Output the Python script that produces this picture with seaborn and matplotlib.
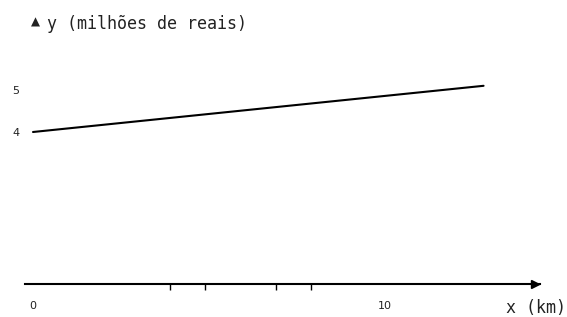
import matplotlib
matplotlib.use("Agg")
import matplotlib.pyplot as plt
import seaborn as sns
import pandas as pd

# Data
x_km = [0, 12.8]
y_milhoes = [4, 5.1]
major_ticks = [0, 10]
major_labels = ["0", "10"]
minor_marks = [3.9, 4.9, 6.9, 7.9]
y_ticks = [4, 5]
y_labels = ["4", "5"]
title_marker = "▲"
title_text = "y (milhões de reais)"
xlabel_text = "x (km)"

sns.set_theme(style="white")
plt.rcParams['font.family'] = ['DejaVu Sans']

W, H = 567, 317
fig = plt.figure(figsize=(W / 100, H / 100), dpi=100)
left_px, right_px, top_px, axis_px = 25, 540, 10, 284
ax = fig.add_axes([left_px / W, (H - axis_px) / H,
                   (right_px - left_px) / W, (axis_px - top_px) / H])

df = pd.DataFrame({"x": x_km, "y": y_milhoes})
sns.lineplot(data=df, x="x", y="y", ax=ax, color="black", linewidth=1.5)

# pixel mapping: x px = 33 + 35.2*x ; y px = 132 - 42*(y-4)
ax.set_xlim((left_px - 33) / 35.2, (right_px - 33) / 35.2)
ax.set_ylim(4 - (axis_px - 132) / 42, 4 + (132 - top_px) / 42)

for s in ["left", "right", "top"]:
    ax.spines[s].set_visible(False)
ax.spines["bottom"].set_color("black")
ax.spines["bottom"].set_linewidth(1.5)
ax.plot([1.0 - 5 / (right_px - left_px)], [0.0], marker=">", markersize=6,
        color="black", transform=ax.transAxes, clip_on=False)

ax.set_xticks(major_ticks, major_labels)
ax.set_xticks(minor_marks, minor=True)
ax.tick_params(axis="x", which="major", length=0, pad=12.5, labelsize=8, colors="#222222")
ax.tick_params(axis="x", which="minor", bottom=True, length=4.5, width=1.0,
               direction="out", color="black")
ax.set_yticks(y_ticks, y_labels)
ax.tick_params(axis="y", length=0, pad=4, labelsize=8, colors="#222222")
ax.set_xlabel("")
ax.set_ylabel("")

fig.text(35 / W, 1 - 22 / H, title_marker, ha="center", va="center",
         fontsize=8.5, color="#222222")
fig.text(47 / W, 1 - 24 / H, title_text, ha="left", va="center", fontsize=12,
         family="DejaVu Sans Mono", color="#222222")
fig.text(566 / W, 1 - 308 / H, xlabel_text, ha="right", va="center", fontsize=12,
         family="DejaVu Sans Mono", color="#222222")

fig.savefig("out.png", dpi=100)
